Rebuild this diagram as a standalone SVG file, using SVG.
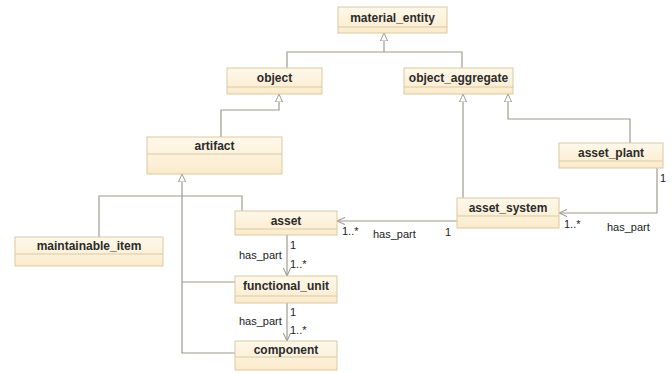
<svg xmlns="http://www.w3.org/2000/svg" width="672" height="374" viewBox="0 0 672 374">
  <defs>
    <linearGradient id="boxFill" x1="0" y1="0" x2="0" y2="1">
      <stop offset="0" stop-color="#fef8ea"/>
      <stop offset="1" stop-color="#fbebcc"/>
    </linearGradient>
    <!-- hollow triangle for generalization -->
    <marker id="gen" viewBox="0 0 10 10" refX="10" refY="5" markerWidth="8" markerHeight="8" orient="auto" markerUnits="userSpaceOnUse">
      <path d="M0,0.5 L10,5 L0,9.5 Z" fill="#ffffff" stroke="#a09a90" stroke-width="1.2"/>
    </marker>
    <!-- open arrowhead for navigable association -->
    <marker id="nav" viewBox="0 0 10 10" refX="10" refY="5" markerWidth="8" markerHeight="8" orient="auto" markerUnits="userSpaceOnUse">
      <path d="M0,0.5 L10,5 L0,9.5" fill="none" stroke="#a09a90" stroke-width="1.3"/>
    </marker>
  </defs>
  <style>
    .box { fill: url(#boxFill); stroke: #d9c9a3; stroke-width: 1; }
    .div { stroke: #d9c9a3; stroke-width: 1; }
    .name { font-family: "Liberation Sans", Arial, sans-serif; font-size: 12px; font-weight: bold; fill: #2b2b2b; text-anchor: middle; }
    .lbl { font-family: "Liberation Sans", Arial, sans-serif; font-size: 11px; fill: #222222; }
    .edge { fill: none; stroke: #a09a90; stroke-width: 1.2; }
  </style>
  <rect width="672" height="374" fill="#ffffff"/>

  <!-- connectors -->
  <g id="connectors">
    <!-- generalizations -->
    <path class="edge" d="M287,68 V52 H462 V68"/>
    <path class="edge" d="M384,52 V33" marker-end="url(#gen)"/>
    <path class="edge" d="M221,137 V110 H279 V94" marker-end="url(#gen)"/>
    <path class="edge" d="M463,198 V94" marker-end="url(#gen)"/>
    <path class="edge" d="M630,143 V119 H508 V94" marker-end="url(#gen)"/>
    <path class="edge" d="M99,237 V196 H242 V211"/>
    <path class="edge" d="M235,282 H182"/>
    <path class="edge" d="M235,353 H182 V174" marker-end="url(#gen)"/>
    <!-- has_part associations -->
    <path class="edge" d="M457,221 H337" marker-end="url(#nav)"/>
    <path class="edge" d="M657,168 V213 H559" marker-end="url(#nav)"/>
    <path class="edge" d="M287,235 V276" marker-end="url(#nav)"/>
    <path class="edge" d="M287,303 V341" marker-end="url(#nav)"/>
    <!-- association labels -->
    <text class="lbl" x="342" y="235">1..*</text>
    <text class="lbl" x="373" y="238">has_part</text>
    <text class="lbl" x="445" y="236">1</text>
    <text class="lbl" x="660" y="182">1</text>
    <text class="lbl" x="564" y="228">1..*</text>
    <text class="lbl" x="607" y="231">has_part</text>
    <text class="lbl" x="239" y="259">has_part</text>
    <text class="lbl" x="290" y="249">1</text>
    <text class="lbl" x="290" y="268">1..*</text>
    <text class="lbl" x="239" y="325">has_part</text>
    <text class="lbl" x="290" y="316">1</text>
    <text class="lbl" x="290" y="334">1..*</text>
  </g>

  <g id="material_entity">
    <rect class="box" x="338" y="7" width="109" height="26"/>
    <line class="div" x1="338" y1="27" x2="447" y2="27"/>
    <text class="name" x="392.5" y="21.5">material_entity</text>
  </g>
  <g id="object">
    <rect class="box" x="227" y="68" width="95" height="26"/>
    <line class="div" x1="227" y1="87" x2="322" y2="87"/>
    <text class="name" x="274.5" y="82">object</text>
  </g>
  <g id="object_aggregate">
    <rect class="box" x="404" y="68" width="109" height="26"/>
    <line class="div" x1="404" y1="87" x2="513" y2="87"/>
    <text class="name" x="458.5" y="82">object_aggregate</text>
  </g>
  <g id="artifact">
    <rect class="box" x="147" y="137" width="135" height="37"/>
    <line class="div" x1="147" y1="154" x2="282" y2="154"/>
    <text class="name" x="214.5" y="150">artifact</text>
  </g>
  <g id="asset_plant">
    <rect class="box" x="559" y="143" width="104" height="25"/>
    <line class="div" x1="559" y1="161" x2="663" y2="161"/>
    <text class="name" x="611" y="156.5">asset_plant</text>
  </g>
  <g id="asset_system">
    <rect class="box" x="457" y="198" width="102" height="30"/>
    <line class="div" x1="457" y1="216" x2="559" y2="216"/>
    <text class="name" x="508" y="211.5">asset_system</text>
  </g>
  <g id="asset">
    <rect class="box" x="235" y="211" width="102" height="24"/>
    <line class="div" x1="235" y1="229" x2="337" y2="229"/>
    <text class="name" x="286" y="224.5">asset</text>
  </g>
  <g id="maintainable_item">
    <rect class="box" x="15" y="237" width="148" height="29"/>
    <line class="div" x1="15" y1="254" x2="163" y2="254"/>
    <text class="name" x="89" y="250">maintainable_item</text>
  </g>
  <g id="functional_unit">
    <rect class="box" x="235" y="276" width="102" height="27"/>
    <line class="div" x1="235" y1="296" x2="337" y2="296"/>
    <text class="name" x="286" y="290">functional_unit</text>
  </g>
  <g id="component">
    <rect class="box" x="235" y="341" width="102" height="29"/>
    <line class="div" x1="235" y1="357" x2="337" y2="357"/>
    <text class="name" x="286" y="353.5">component</text>
  </g>
</svg>
